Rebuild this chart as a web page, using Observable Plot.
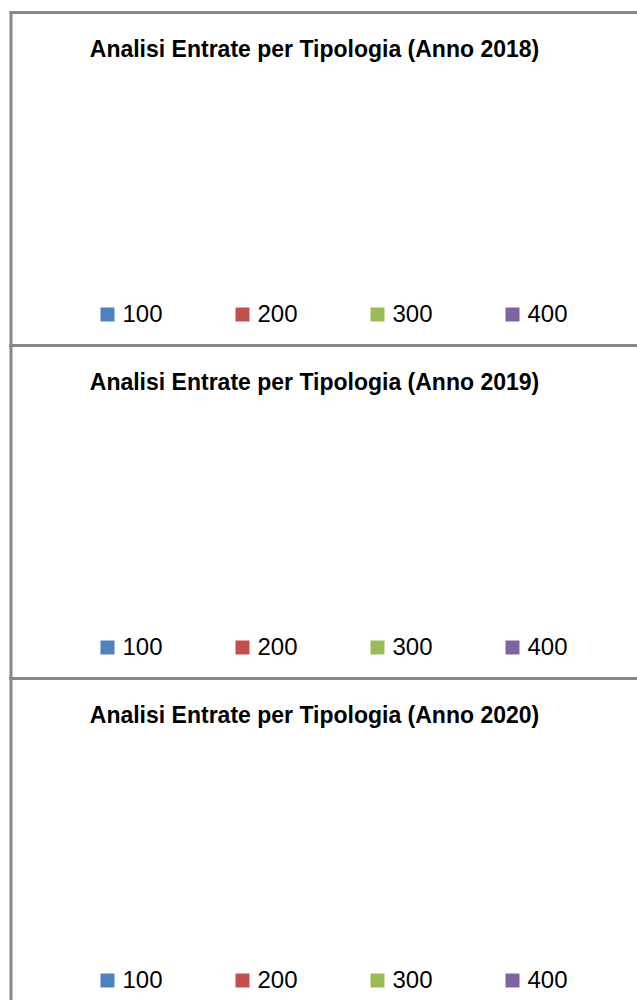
<!DOCTYPE html>
<html>
<head>
<meta charset="utf-8">
<script src="https://cdn.jsdelivr.net/npm/d3@7"></script>
<script src="https://cdn.jsdelivr.net/npm/@observablehq/plot@0.6"></script>
<style>
  html, body { margin: 0; padding: 0; background: #fff; overflow: hidden; }
  #chart { width: 637px; height: 1000px; overflow: hidden; }
</style>
</head>
<body>
<div id="chart"></div>
<script>
// Years (one panel each)
const years = [2018, 2019, 2020];
// Tipologie (legend categories)
const categories = ["100", "200", "300", "400"];
// Entrate per tipologia: the source charts are empty (no slices drawn)
const entrate2018 = [0, 0, 0, 0];
const entrate2019 = [0, 0, 0, 0];
const entrate2020 = [0, 0, 0, 0];
const colors = ["#4F81BD", "#C0504D", "#9BBB59", "#8064A2"];

const titles = years.map(y => ({year: y, title: `Analisi Entrate per Tipologia (Anno ${y})`}));
const entrate = [entrate2018, entrate2019, entrate2020];
const legendRows = years.flatMap((y, i) => categories.map((c, j) => ({year: y, cat: c, value: entrate[i][j]})));

const font = "'Liberation Sans', Arial, sans-serif";

const chart = Plot.plot({
  width: 637,
  height: 1011,
  marginTop: 12,
  marginBottom: 0,
  marginLeft: 10.5,
  marginRight: 0,
  style: {background: "#fff", fontFamily: font},
  fy: {domain: years, axis: null, padding: 0},
  x: {type: "point", domain: categories, range: [106, 513], padding: 0, axis: null},
  color: {domain: categories, range: colors},
  marks: [
    Plot.frame({anchor: "top", stroke: "#878787", strokeWidth: 3}),
    Plot.frame({anchor: "left", stroke: "#878787", strokeWidth: 3}),
    Plot.text(titles, {
      fy: "year", text: "title", frameAnchor: "top-left",
      dx: 303.5, dy: 37, textAnchor: "middle", lineAnchor: "middle",
      fontSize: 23, fontWeight: "bold", fill: "#000", fontFamily: font
    }),
    Plot.dot(legendRows, {
      fy: "year", x: "cat", frameAnchor: "bottom", dy: -31,
      symbol: "square", r: 7.9, fill: "cat", stroke: "none"
    }),
    Plot.text(legendRows, {
      fy: "year", x: "cat", text: "cat", frameAnchor: "bottom", dy: -31,
      dx: 15, textAnchor: "start", lineAnchor: "middle",
      fontSize: 24, fill: "#000", fontFamily: font
    })
  ]
});
document.getElementById("chart").appendChild(chart);
</script>
</body>
</html>
